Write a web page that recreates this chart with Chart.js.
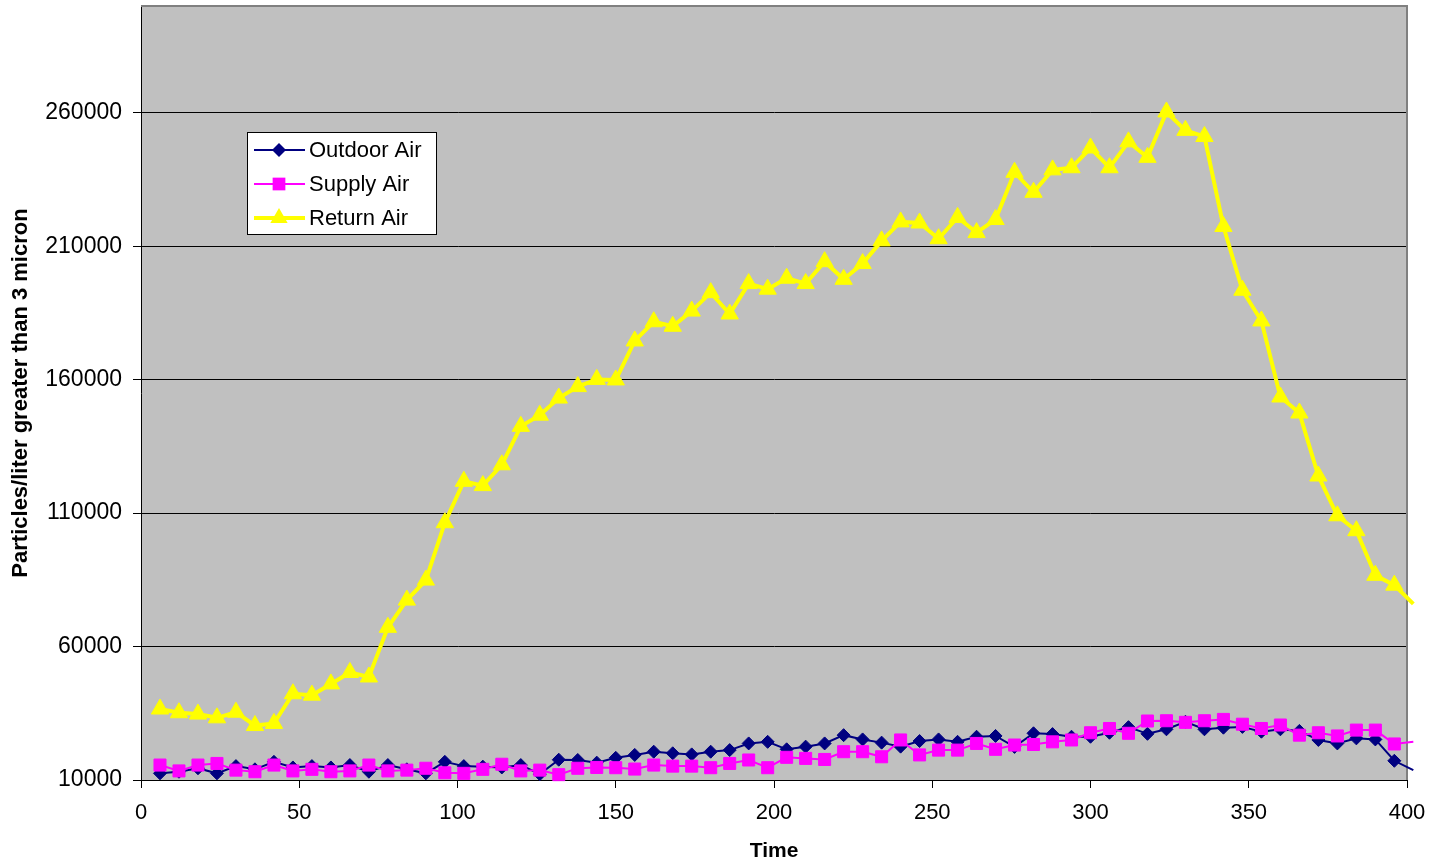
<!DOCTYPE html>
<html>
<head>
<meta charset="utf-8">
<script src="https://cdn.jsdelivr.net/npm/chart.js@4.4.1/dist/chart.umd.min.js"></script>
<style>
  body { margin: 0; background: #fff; }
  #wrap { width: 1433px; height: 868px; overflow: hidden; }
  #airChart { display: block; margin-top: -5px; }
</style>
</head>
<body>
<div id="wrap"><canvas id="airChart" width="1433" height="873"></canvas></div>
<script>
// --- DATA ---
const times = [6, 12, 18, 24, 30, 36, 42, 48, 54, 60, 66, 72, 78, 84, 90, 96, 102, 108, 114, 120,
  126, 132, 138, 144, 150, 156, 162, 168, 174, 180, 186, 192, 198, 204, 210, 216, 222, 228, 234, 240,
  246, 252, 258, 264, 270, 276, 282, 288, 294, 300, 306, 312, 318, 324, 330, 336, 342, 348, 354, 360,
  366, 372, 378, 384, 390, 396, 402];

const outdoorAir = [12500, 13100, 14400, 12500, 15200, 14000, 16800, 14700, 15200, 14700,
  15600, 13100, 15600, 14000, 12500, 16800, 15200, 15000, 14700, 15600,
  12200, 17600, 17500, 16500, 18300, 19400, 20600, 20000, 19600, 20600,
  21200, 23700, 24300, 21500, 22500, 23700, 26800, 25200, 24000, 22500,
  24600, 25200, 24300, 26200, 26500, 22400, 27500, 27200, 26200, 26200,
  27700, 29800, 27300, 29000, 31800, 29000, 29600, 29900, 28100, 29000,
  28400, 25000, 23700, 25600, 25200, 17200, 13700];

const supplyAir = [15600, 13400, 15600, 16200, 13700, 13100, 15600, 13400, 14000, 13100,
  13400, 15600, 13400, 13700, 14400, 12700, 12500, 14000, 15900, 13400,
  13700, 12000, 14400, 14700, 14600, 14100, 15600, 15200, 15200, 14600,
  16200, 17500, 14600, 18500, 18100, 17700, 20600, 20600, 18700, 25000,
  19400, 21200, 21200, 23700, 21500, 23100, 23300, 24300, 25000, 27700,
  29300, 27500, 32100, 32200, 31600, 32200, 32700, 30900, 29300, 30600,
  26800, 27700, 26500, 28700, 28700, 23500, 24300];

const returnAir = [36600, 35200, 34700, 33300, 35400, 30400, 31200, 42300, 41800, 46000,
  50300, 48600, 67200, 77400, 84900, 106400, 121900, 120300, 128100, 142500,
  146700, 153100, 157400, 160100, 159900, 174500, 181700, 180000, 185700, 192600,
  184600, 196000, 193900, 198000, 196000, 204200, 197600, 203500, 212000, 219100,
  218700, 212800, 220800, 215100, 220000, 237700, 230200, 238600, 239400, 246800,
  239400, 249100, 243300, 260300, 253400, 251100, 217400, 193500, 182000, 153500,
  147500, 123900, 109000, 103400, 86700, 83000, 76000];

const yTicks = [10000, 60000, 110000, 160000, 210000, 260000];
const xMin = 0, xMax = 400, yMin = 10000, yMax = 300000;

const FONT = "'Liberation Sans', Arial, sans-serif";
Chart.defaults.font.family = FONT;
Chart.defaults.color = '#000';

const toPoints = vals => times.map((t, i) => ({ x: t, y: vals[i] }));
// last sample sits just past the axis end: line runs on, no marker
const hideOver = r => ctx => (ctx.raw && ctx.raw.x > xMax ? 0 : r);

// --- PLUGINS ---
const plotFrame = {
  id: 'plotFrame',
  beforeDraw(chart) {
    const { ctx, chartArea: a } = chart;
    ctx.save();
    ctx.fillStyle = '#C0C0C0';
    ctx.fillRect(a.left, a.top, a.right - a.left, a.bottom - a.top);
    ctx.restore();
  },
  beforeDatasetsDraw(chart) {
    const { ctx, chartArea: a } = chart;
    ctx.save();
    ctx.strokeStyle = '#808080';
    ctx.lineWidth = 2;
    ctx.beginPath();
    ctx.moveTo(a.left, a.top);
    ctx.lineTo(a.right, a.top);
    ctx.lineTo(a.right, a.bottom);
    ctx.stroke();
    ctx.restore();
  }
};

function marker(ctx, style, x, y, r, color) {
  ctx.fillStyle = color;
  ctx.beginPath();
  if (style === 'rectRot') {
    ctx.moveTo(x, y - r); ctx.lineTo(x + r, y); ctx.lineTo(x, y + r); ctx.lineTo(x - r, y);
  } else if (style === 'rect') {
    const s = r * Math.SQRT1_2;
    ctx.rect(x - s, y - s, 2 * s, 2 * s);
  } else {
    ctx.moveTo(x, y - r); ctx.lineTo(x + r * 0.866, y + r * 0.5); ctx.lineTo(x - r * 0.866, y + r * 0.5);
  }
  ctx.closePath();
  ctx.fill();
}

// legend box sits inside the plot, under the 260000 line
const boxLegend = {
  id: 'boxLegend',
  afterDraw(chart) {
    const { ctx, chartArea } = chart;
    const bx = 247, by = chartArea.top + 126, bw = 189, bh = 102;
    ctx.save();
    ctx.fillStyle = '#fff';
    ctx.fillRect(bx, by, bw, bh);
    ctx.strokeStyle = '#000';
    ctx.lineWidth = 1;
    ctx.strokeRect(bx + 0.5, by + 0.5, bw, bh);
    chart.data.datasets.forEach((ds, i) => {
      const y = by + 18 + i * 34;
      ctx.strokeStyle = ds.borderColor;
      ctx.lineWidth = ds.borderWidth;
      ctx.beginPath();
      ctx.moveTo(bx + 7, y);
      ctx.lineTo(bx + 58, y);
      ctx.stroke();
      marker(ctx, ds.pointStyle, bx + 32, y, ds.legendRadius, ds.borderColor);
      ctx.fillStyle = '#000';
      ctx.font = '22px ' + FONT;
      ctx.textBaseline = 'middle';
      ctx.fillText(ds.label, bx + 62, y + 1);
    });
    ctx.restore();
  }
};

// plot area should use the full height/width; drop the room kept for overhanging labels
function noOverhang(scale) {
  scale.paddingTop = scale.paddingBottom = scale.paddingLeft = scale.paddingRight = 0;
  if (scale._margins) {
    scale._margins.top = scale._margins.bottom = 0;
    scale._margins.left = scale._margins.right = 0;
  }
}

// --- CHART ---
const ctx = document.getElementById('airChart').getContext('2d');
new Chart(ctx, {
  type: 'line',
  data: {
    datasets: [
      {
        label: 'Outdoor Air',
        data: toPoints(outdoorAir),
        borderColor: '#000080',
        backgroundColor: '#000080',
        borderWidth: 2,
        pointStyle: 'rectRot',
        pointRadius: hideOver(6.5),
        pointBorderWidth: 1,
        legendRadius: 7,
        order: 1
      },
      {
        label: 'Supply Air',
        data: toPoints(supplyAir),
        borderColor: '#FF00FF',
        backgroundColor: '#FF00FF',
        borderWidth: 2,
        pointStyle: 'rect',
        pointRadius: hideOver(8.5),
        pointBorderWidth: 1,
        legendRadius: 9,
        order: 0
      },
      {
        label: 'Return Air',
        data: toPoints(returnAir),
        borderColor: '#FFFF00',
        backgroundColor: '#FFFF00',
        borderWidth: 4,
        pointStyle: 'triangle',
        pointRadius: hideOver(10),
        pointBorderWidth: 1,
        legendRadius: 10,
        order: 2
      }
    ]
  },
  options: {
    responsive: false,
    animation: false,
    events: [],
    layout: { padding: { top: 5, right: 26, left: 0, bottom: 0 } },
    elements: { line: { tension: 0, fill: false } },
    datasets: { line: { clip: { left: 0, top: 0, right: 8, bottom: 6 } } },
    plugins: { legend: { display: false }, tooltip: { enabled: false } },
    scales: {
      x: {
        type: 'linear',
        min: xMin,
        max: xMax,
        afterFit(scale) {
          scale.height = 88;
          noOverhang(scale);
        },
        ticks: { stepSize: 50, padding: 12, font: { size: 22 }, color: '#000', maxRotation: 0 },
        grid: { drawOnChartArea: false, drawTicks: true, tickLength: 8, color: '#000' },
        border: { color: '#000', width: 1 },
        title: { display: true, text: 'Time', font: { size: 21, weight: 'bold' }, color: '#000', padding: { top: 0, bottom: 4 } }
      },
      y: {
        type: 'linear',
        min: yMin,
        max: yMax,
        afterFit(scale) {
          scale.width = 141;
          noOverhang(scale);
        },
        afterBuildTicks(scale) { scale.ticks = yTicks.map(v => ({ value: v })); },
        ticks: { padding: 11, font: { size: 23 }, color: '#000', callback: v => String(v) },
        grid: { color: '#000', lineWidth: 1, tickLength: 8 },
        border: { color: '#000', width: 1 },
        title: { display: true, text: 'Particles/liter greater than 3 micron', font: { size: 22, weight: 'bold' }, color: '#000', padding: { top: 8, bottom: 0 } }
      }
    }
  },
  plugins: [plotFrame, boxLegend]
});
</script>
</body>
</html>
